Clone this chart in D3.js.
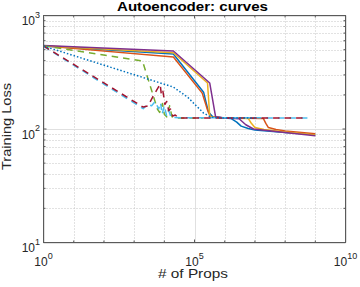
<!DOCTYPE html>
<html>
<head>
<meta charset="utf-8">
<script src="https://cdn.jsdelivr.net/npm/d3@7"></script>
<style>
  body { margin: 0; background: #fff; }
  text { font-family: "Liberation Sans", Arial, sans-serif; fill: #262626; }
</style>
</head>
<body>
<svg id="chart" width="360" height="287"></svg>
<script>

// curves: [props, loss]
var blueSolid = [[1,538],[2.0e4,458],[2.0e5,211],[2.9e5,141],[4.0e5,128],[1e6,125],[1.6e6,124],[2.5e6,115],[3.5e6,106],[6e6,101],[1e7,98],[1e8,93],[1e9,89]]
var orangeSolid = [[1,540],[2.0e4,431],[1.8e5,207],[2.7e5,147],[3.4e5,128],[1e6,125],[1.9e7,124],[2.3e7,112],[2.8e7,103],[5e7,99],[1e8,96],[1e9,91]]
var yellowSolid = [[1,541],[2.0e4,470],[2.7e5,254],[3.2e5,128],[1e6,125],[6e6,124],[7.5e6,113],[1e7,103],[2e7,99],[1e8,94],[1e9,88.5]]
var purpleSolid = [[1,543],[2.0e4,487],[3.2e5,254],[5.0e5,128],[1e6,125],[3e6,123],[5e6,109],[9e6,100],[1e8,93],[1e9,87]]
var greenDashed = [[1,540],[1.9e3,397],[5.9e3,150],[7e3,140],[8.7e3,168],[1.0e4,135],[1.2e4,128],[1.5e4,160],[1.8e4,128],[2.5e4,125],[2e5,125]]
var cyanDashed = [[1,535],[2.0e3,151],[2.8e3,165],[3.8e3,160],[5.0e3,175],[6.5e3,150],[7.5e3,170],[8.5e3,135],[1.0e4,160],[1.2e4,130],[1.4e4,145],[1.7e4,126],[5.5e8,125]]
var redDashed = [[1,540],[2.0e3,156],[2.9e3,160],[4.5e3,200],[7.3e3,248],[8e3,200],[9e3,215],[1.05e4,165],[1.2e4,175],[1.4e4,145],[1.6e4,150],[1.9e4,130],[2.3e4,133],[3e4,125],[5.5e8,125]]
var blueDotted = [[1,538],[2.0e4,234],[5.9e4,191],[1.07e5,163],[2.0e5,138],[3.4e5,128],[6e5,125],[1e7,125]]

var xLabelTicks = [0, 5, 10]          // exponents with labels
var xDecades = d3.range(0, 11)
var yLabelTicks = [1, 2, 3]
var yMinor = [20,30,40,50,60,70,80,90,200,300,400,500,600,700,800,900]

var series = [
    {data: blueSolid, color: "#0072BD", dash: null},
    {data: orangeSolid, color: "#D95319", dash: null},
    {data: yellowSolid, color: "#EDB120", dash: null},
    {data: purpleSolid, color: "#7E2F8E", dash: null},
    {data: greenDashed, color: "#77AC30", dash: "6.5,5"},
    {data: cyanDashed, color: "#4DBEEE", dash: "6.5,5"},
    {data: redDashed, color: "#A2142F", dash: "6.5,5"},
    {data: blueDotted, color: "#0072BD", dash: "1.5,2"}
]

function drawChart() {

    var svg = d3.select("#chart")
    var pLeft = 43.5, pRight = 345.5, pTop = 15.5, pBottom = 242.5

    var x = d3.scaleLog().domain([1, 1e10]).range([pLeft, pRight])
    var y = d3.scaleLog().domain([10, 1000]).range([pBottom, pTop])

    svg.append("rect").attr("width", 360).attr("height", 287).attr("fill", "#fff")

    var grid = svg.append("g")

    // minor grid, dotted
    xDecades.filter(function(e) { return xLabelTicks.indexOf(e) < 0 }).forEach(function(e) {
        var px = Math.round(x(Math.pow(10, e))) + 0.5
        grid.append("line")
            .attr("x1", px).attr("x2", px)
            .attr("y1", pTop).attr("y2", pBottom)
            .attr("stroke", "#c4c4c4").attr("stroke-dasharray", "1,2")
    })
    yMinor.forEach(function(v) {
        var py = Math.round(y(v)) + 0.5
        grid.append("line")
            .attr("y1", py).attr("y2", py)
            .attr("x1", pLeft).attr("x2", pRight)
            .attr("stroke", "#c4c4c4").attr("stroke-dasharray", "1,2")
    })

    // major grid
    xLabelTicks.forEach(function(e) {
        var px = Math.round(x(Math.pow(10, e))) + 0.5
        grid.append("line")
            .attr("x1", px).attr("x2", px)
            .attr("y1", pTop).attr("y2", pBottom)
            .attr("stroke", "#e0e0e0")
    })
    yLabelTicks.forEach(function(e) {
        var py = Math.round(y(Math.pow(10, e))) + 0.5
        grid.append("line")
            .attr("y1", py).attr("y2", py)
            .attr("x1", pLeft).attr("x2", pRight)
            .attr("stroke", "#e0e0e0")
    })

    // curves
    svg.append("clipPath").attr("id", "clip")
        .append("rect").attr("x", pLeft).attr("y", pTop).attr("width", pRight - pLeft).attr("height", pBottom - pTop)

    var line = d3.line()
        .x(function(d) { return x(d[0]) })
        .y(function(d) { return y(d[1]) })

    svg.append("g").attr("clip-path", "url(#clip)")
        .selectAll("path")
        .data(series)
        .enter()
        .append("path")
        .attr("d", function(d) { return line(d.data) })
        .attr("fill", "none")
        .attr("stroke", function(d) { return d.color })
        .attr("stroke-width", 1.5)
        .attr("stroke-linejoin", "round")
        .attr("stroke-dasharray", function(d) { return d.dash })

    // axes box and inward ticks
    var box = svg.append("g").attr("stroke", "#5a5a5a").attr("fill", "none")
    box.append("rect").attr("x", pLeft).attr("y", pTop).attr("width", pRight - pLeft).attr("height", pBottom - pTop)

    xDecades.forEach(function(e) {
        var px = x(Math.pow(10, e))
        var len = xLabelTicks.indexOf(e) < 0 ? 2 : 3
        box.append("line").attr("x1", px).attr("x2", px).attr("y1", pBottom).attr("y2", pBottom - len)
        box.append("line").attr("x1", px).attr("x2", px).attr("y1", pTop).attr("y2", pTop + len)
    })
    yLabelTicks.map(function(e) { return [Math.pow(10, e), 3] })
        .concat(yMinor.map(function(v) { return [v, 2] }))
        .forEach(function(t) {
            var py = y(t[0])
            box.append("line").attr("y1", py).attr("y2", py).attr("x1", pLeft).attr("x2", pLeft + t[1])
            box.append("line").attr("y1", py).attr("y2", py).attr("x1", pRight).attr("x2", pRight - t[1])
        })

    // tick labels with superscripts
    function powerLabel(sel, e) {
        sel.append("tspan").text("10").attr("font-size", 12)
        sel.append("tspan").text(e).attr("font-size", 9).attr("dy", -7.5)
    }

    xLabelTicks.forEach(function(e) {
        var t = svg.append("text")
            .attr("x", x(Math.pow(10, e)))
            .attr("y", 266)
            .attr("text-anchor", "middle")
        powerLabel(t, e)
    })
    yLabelTicks.forEach(function(e) {
        var t = svg.append("text")
            .attr("x", 40)
            .attr("y", y(Math.pow(10, e)) + 9.5)
            .attr("text-anchor", "end")
        powerLabel(t, e)
    })

    // title and axis labels
    svg.append("text")
        .attr("x", 192.5).attr("y", 10.5)
        .attr("text-anchor", "middle")
        .attr("font-size", 12).attr("font-weight", "bold")
        .attr("textLength", 151).attr("lengthAdjust", "spacingAndGlyphs")
        .style("fill", "#000")
        .text("Autoencoder: curves")

    svg.append("text")
        .attr("x", 193).attr("y", 278)
        .attr("text-anchor", "middle")
        .attr("font-size", 13)
        .attr("textLength", 70).attr("lengthAdjust", "spacingAndGlyphs")
        .text("# of Props")

    svg.append("text")
        .attr("transform", "translate(10.5,126.5) rotate(-90)")
        .attr("text-anchor", "middle")
        .attr("font-size", 13)
        .attr("textLength", 87).attr("lengthAdjust", "spacingAndGlyphs")
        .text("Training Loss")
}

drawChart()

</script>
</body>
</html>
